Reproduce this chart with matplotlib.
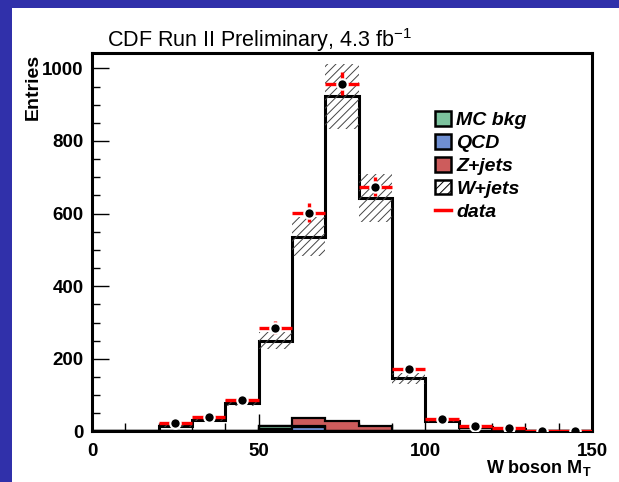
import numpy as np
import matplotlib
matplotlib.use("Agg")
import matplotlib.pyplot as plt
from matplotlib.patches import Patch, Rectangle
from matplotlib.lines import Line2D

plt.rcParams['font.family'] = ['Liberation Sans', 'DejaVu Sans']
plt.rcParams['mathtext.fontset'] = 'custom'
plt.rcParams['mathtext.rm'] = 'Liberation Sans'
plt.rcParams['mathtext.bf'] = 'Liberation Sans:bold'
plt.rcParams['mathtext.it'] = 'Liberation Sans:italic'
plt.rcParams['hatch.linewidth'] = 0.7

# binning (W boson transverse mass)
edges = np.arange(0, 151, 10)
centers = edges[:-1] + 5

# stacked MC (bottom -> top)
qcd = [0, 0, 0, 0, 0, 6, 12, 0, 0, 0, 0, 0, 0, 0, 0]
mc_bkg = [0, 0, 0, 0, 0, 10, 2, 2, 1, 0, 0, 0, 0, 0, 0]
zjets = [0, 0, 0, 0, 0, 0, 24, 28, 15, 0, 0, 0, 0, 0, 0]
wjets = [0, 0, 15, 32, 78, 234, 498, 893, 626, 147, 30, 12, 6, 2, 1]
wjets_unc = [0, 0, 2, 3, 8, 24, 54, 90, 66, 15, 3, 1, 1, 0, 0]

# data, shown from 20 to 150
data_x = [25, 35, 45, 55, 65, 75, 85, 95, 105, 115, 125, 135, 145]
data_y = [24, 41, 86, 286, 603, 958, 674, 171, 34, 15, 10, 0, 0]
data_err = [5, 6, 9, 17, 25, 31, 26, 13, 6, 4, 3, 0, 0]

c_mc = '#7cc39e'
c_qcd = '#6f8fd2'
c_z = '#cd5c5c'

fig = plt.figure(figsize=(6.19, 4.82), dpi=100)
fig.patch.set_facecolor('#3030aa')
fig.add_artist(Rectangle((12 / 619, 0), 1, 474 / 482, transform=fig.transFigure,
                         facecolor='white', edgecolor='none', zorder=0))

ax = fig.add_axes([0.1486, 0.1048, 0.8078, 0.785])

layers = [(qcd, c_qcd), (mc_bkg, c_mc), (zjets, c_z)]
base = np.zeros(len(centers))
for vals, col in layers:
    top = base + np.array(vals)
    if np.any(np.array(vals) > 0):
        ax.stairs(top, edges, baseline=base, fill=True, color=col, zorder=2)
        ax.stairs(top, edges, baseline=0, fill=False, color='black', lw=1.6, zorder=3)
    base = top

total = base + np.array(wjets)
unc = np.array(wjets_unc)
ax.stairs(total, edges, baseline=0, fill=False, color='black', lw=2.2, zorder=4)
ax.bar(centers, 2 * unc, bottom=total - unc, width=10, facecolor='none',
       edgecolor='#444444', hatch='////', lw=0, zorder=5)

ax.errorbar(data_x, data_y, xerr=5, yerr=data_err, fmt='o', color='black',
            ecolor='red', elinewidth=2.4, capsize=0, ms=7.5, mec='white', mew=1.5, zorder=6)

ax.set_xlim(0, 150)
ax.set_ylim(0, 1042)
ax.set_xticks([0, 50, 100, 150])
ax.set_xticks(np.arange(0, 151, 10), minor=True)
ax.set_yticks(np.arange(0, 1001, 200))
ax.set_yticks(np.arange(0, 1001, 50), minor=True)
ax.tick_params(direction='in', which='major', length=12, width=1.0, labelsize=13.5)
ax.tick_params(direction='in', which='minor', length=6, width=1.0)
ax.tick_params(axis='x', which='major', pad=8)
ax.tick_params(axis='y', which='major', pad=6)
for lab in ax.get_xticklabels() + ax.get_yticklabels():
    lab.set_fontweight('bold')
for s in ax.spines.values():
    s.set_linewidth(2.2)

fig.text(107 / 619, 1 - 47 / 482, r"CDF Run II Preliminary, 4.3 fb$^{-1}$",
         fontsize=15.5, ha='left', va='baseline')
fig.text(33 / 619, 1 - 54 / 482, "Entries", rotation=90, ha='center', va='top',
         fontsize=14, fontweight='bold')
fig.text(592 / 619, 1 - 468 / 482, r"W boson M$_{\mathbf{T}}$", ha='right', va='center',
         fontsize=13, fontweight='bold')

handles = [Patch(facecolor=c_mc, edgecolor='black', lw=1.8),
           Patch(facecolor=c_qcd, edgecolor='black', lw=1.8),
           Patch(facecolor=c_z, edgecolor='black', lw=1.8),
           Patch(facecolor='white', edgecolor='black', lw=1.8, hatch='////'),
           Line2D([], [], color='red', lw=2.5)]
labels = ['MC bkg', 'QCD', 'Z+jets', 'W+jets', 'data']
fig.legend(handles, labels, loc='upper left', bbox_to_anchor=(435 / 619, 1 - 111 / 482),
           frameon=False, prop={'weight': 'bold', 'style': 'italic', 'size': 14},
           handlelength=0.8, handleheight=0.8, handletextpad=0.3, labelspacing=0.24,
           borderpad=0, borderaxespad=0)

fig.savefig('out.png', dpi=100, facecolor=fig.get_facecolor())
